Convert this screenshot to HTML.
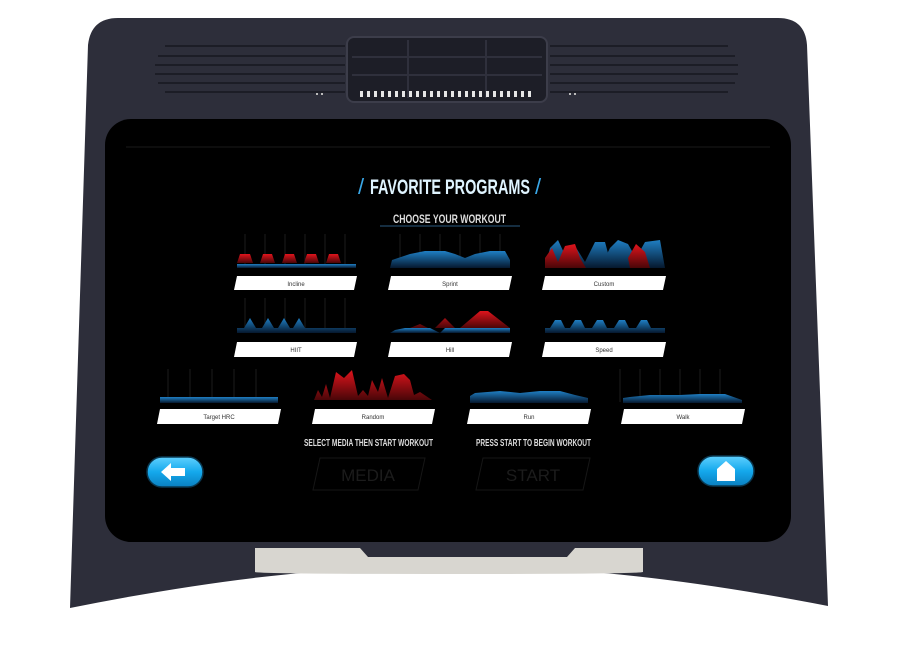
<!DOCTYPE html>
<html><head><meta charset="utf-8"><style>
html,body{margin:0;padding:0;background:#fff;}
svg{display:block}
text{font-family:"Liberation Sans Narrow","Liberation Sans",sans-serif;}
</style></head><body>
<svg width="900" height="653" viewBox="0 0 900 653" xmlns="http://www.w3.org/2000/svg">
<defs>
<linearGradient id="bl" x1="0" y1="0" x2="0" y2="1"><stop offset="0" stop-color="#1f7fc4"/><stop offset="1" stop-color="#06182e"/></linearGradient>
<linearGradient id="rd" x1="0" y1="0" x2="0" y2="1"><stop offset="0" stop-color="#e0141c"/><stop offset="1" stop-color="#4a0608"/></linearGradient>
<linearGradient id="btn" x1="0" y1="0" x2="0" y2="1"><stop offset="0" stop-color="#5fd0ff"/><stop offset="0.5" stop-color="#14a8ec"/><stop offset="1" stop-color="#0a7fc0"/></linearGradient>
</defs>
<path d="M118 18 L778 18 Q805 18 807 45 L828 606 Q600 562 450 568 Q300 562 70 608 L88 45 Q91 18 118 18 Z" fill="#2d2e3a"/>
<g stroke="#1c1d26" stroke-width="2" fill="none">
<path d="M165 46 H345 M158 56 H345 M155 65 H345 M155 74 H345 M158 83 H345 M165 92 H345"/>
<path d="M550 46 H728 M550 56 H735 M550 65 H738 M550 74 H738 M550 83 H735 M550 92 H728"/>
</g>
<g fill="#bbb"><rect x="316" y="93" width="2" height="2"/><rect x="321" y="93" width="2" height="2"/><rect x="569" y="93" width="2" height="2"/><rect x="574" y="93" width="2" height="2"/></g>
<rect x="347" y="37" width="200" height="65" rx="7" fill="#1d1e27" stroke="#3c3d4a" stroke-width="2"/>
<g stroke="#2f303c" stroke-width="2"><path d="M352 57 H542 M352 75 H542 M408 40 V98 M486 40 V98"/></g>
<g fill="#e6e6e6">
<rect x="360" y="91" width="3" height="6"/><rect x="367" y="91" width="3" height="6"/><rect x="374" y="91" width="3" height="6"/><rect x="381" y="91" width="3" height="6"/><rect x="388" y="91" width="3" height="6"/><rect x="395" y="91" width="3" height="6"/><rect x="402" y="91" width="3" height="6"/><rect x="409" y="91" width="3" height="6"/><rect x="416" y="91" width="3" height="6"/><rect x="423" y="91" width="3" height="6"/><rect x="430" y="91" width="3" height="6"/><rect x="437" y="91" width="3" height="6"/><rect x="444" y="91" width="3" height="6"/><rect x="451" y="91" width="3" height="6"/><rect x="458" y="91" width="3" height="6"/><rect x="465" y="91" width="3" height="6"/><rect x="472" y="91" width="3" height="6"/><rect x="479" y="91" width="3" height="6"/><rect x="486" y="91" width="3" height="6"/><rect x="493" y="91" width="3" height="6"/><rect x="500" y="91" width="3" height="6"/><rect x="507" y="91" width="3" height="6"/><rect x="514" y="91" width="3" height="6"/><rect x="521" y="91" width="3" height="6"/><rect x="528" y="91" width="3" height="6"/>
</g>
<rect x="105" y="119" width="686" height="423" rx="26" fill="#000"/>
<line x1="126" y1="147" x2="770" y2="147" stroke="#1a1a1a" stroke-width="1"/>
<path d="M255 548 H360 L368 557 H567 L575 548 H643 V572 Q640 574 450 574 Q258 574 255 572 Z" fill="#d8d6d0"/>
<text x="358" y="194" fill="#3aa8e8" font-size="22">/</text>
<text x="535" y="194" fill="#3aa8e8" font-size="22">/</text>
<text x="370" y="194" fill="#dff4ff" font-size="21" font-weight="bold" textLength="160" lengthAdjust="spacingAndGlyphs">FAVORITE PROGRAMS</text>
<text x="393" y="223" fill="#ddd" font-size="12" font-weight="bold" textLength="113" lengthAdjust="spacingAndGlyphs">CHOOSE YOUR WORKOUT</text>
<line x1="380" y1="226" x2="520" y2="226" stroke="#2a5a80" stroke-width="1"/>
<g stroke="#1c1c1c" stroke-width="1">
<path d="M245 234 V268 M265 234 V268 M285 234 V268 M305 234 V268 M325 234 V268 M345 234 V268"/>
<path d="M400 234 V268 M420 234 V268 M440 234 V268 M460 234 V268 M480 234 V268 M500 234 V268"/>
<path d="M245 298 V333 M265 298 V333 M285 298 V333 M305 298 V333 M325 298 V333 M345 298 V333"/>
<path d="M168 369 V402 M190 369 V402 M212 369 V402 M234 369 V402 M256 369 V402 M620 369 V402 M640 369 V402 M660 369 V402 M680 369 V402 M700 369 V402 M720 369 V402"/>
</g>
<path d="M237 263 L240 254 L250 254 L253 263 L260 263 L263 254 L272 254 L275 263 L282 263 L285 254 L294 254 L297 263 L304 263 L307 254 L316 254 L319 263 L326 263 L329 254 L338 254 L341 263 Z" fill="url(#rd)"/>
<path d="M237 264 H356 L356 268 H237 Z" fill="url(#bl)"/>
<path d="M390 268 L392 260 L410 254 L425 251 L445 251 L455 254 L465 258 L475 254 L490 251 L505 251 L510 260 L510 268 Z" fill="url(#bl)"/>
<path d="M545 268 L550 248 L558 240 L565 255 L575 246 L585 262 L595 242 L605 242 L612 268 Z" fill="url(#bl)"/>
<path d="M545 258 L552 248 L558 262 L565 246 L575 244 L580 258 L586 268 L545 268Z" fill="url(#rd)"/>
<path d="M600 268 L610 248 L618 240 L628 244 L636 258 L645 242 L660 240 L665 268 Z" fill="url(#bl)"/>
<path d="M628 258 L636 244 L645 252 L650 268 L630 268Z" fill="url(#rd)"/>
<path d="M237 333 V328 H244 L250 318 L256 328 H262 L268 318 L274 328 H278 L284 318 L290 328 H293 L299 318 L305 328 H356 V333 Z" fill="url(#bl)"/>
<path d="M390 333 L395 330 L405 328 H430 L440 333 Z" fill="url(#bl)"/>
<path d="M410 328 L420 324 L428 328 Z M435 328 L445 318 L455 328 Z M460 328 L480 311 L488 311 L510 328 Z" fill="url(#rd)"/>
<path d="M440 333 L445 328 H510 V333 Z" fill="url(#bl)"/>
<path d="M545 333 V328 H550 L555 320 L561 320 L565 328 H570 L575 320 L581 320 L585 328 H592 L597 320 L603 320 L607 328 H614 L619 320 L625 320 L629 328 H636 L641 320 L647 320 L651 328 H665 V333 Z" fill="url(#bl)"/>
<path d="M160 397 H278 V403 H160 Z" fill="url(#bl)"/>
<path d="M314 400 L318 390 L322 397 L326 384 L330 398 L336 372 L344 378 L352 370 L358 396 L363 390 L368 396 L372 380 L378 392 L382 378 L388 398 L395 376 L404 374 L410 380 L414 395 L420 392 L432 400 Z" fill="url(#rd)"/>
<path d="M470 403 V396 L475 393 L500 391 L520 393 L540 391 L560 391 L575 395 L588 398 V403 Z" fill="url(#bl)"/>
<path d="M623 403 V398 L630 397 L650 395 L680 395 L700 394 L725 394 L742 400 V403 Z" fill="url(#bl)"/>
<g fill="#fff">
<path d="M237 276 H357 L354 290 H234 Z"/><path d="M391 276 H512 L509 290 H388 Z"/><path d="M545 276 H666 L663 290 H542 Z"/>
<path d="M237 342 H357 L354 357 H234 Z"/><path d="M391 342 H512 L509 357 H388 Z"/><path d="M545 342 H666 L663 357 H542 Z"/>
<path d="M160 409 H281 L278 424 H157 Z"/><path d="M315 409 H435 L432 424 H312 Z"/><path d="M470 409 H591 L588 424 H467 Z"/><path d="M624 409 H745 L742 424 H621 Z"/>
</g>
<g fill="#333" font-size="6" text-anchor="middle" font-family="Liberation Sans,sans-serif">
<text x="296" y="286">Incline</text><text x="450" y="286">Sprint</text><text x="604" y="286">Custom</text>
<text x="296" y="352">HIIT</text><text x="450" y="352">Hill</text><text x="604" y="352">Speed</text>
<text x="219" y="419">Target HRC</text><text x="373" y="419">Random</text><text x="529" y="419">Run</text><text x="683" y="419">Walk</text>
</g>
<text x="304" y="446" fill="#ddd" font-size="10" font-weight="bold" textLength="129" lengthAdjust="spacingAndGlyphs">SELECT MEDIA THEN START WORKOUT</text>
<text x="476" y="446" fill="#ddd" font-size="10" font-weight="bold" textLength="115" lengthAdjust="spacingAndGlyphs">PRESS START TO BEGIN WORKOUT</text>
<path d="M320 458 H425 L418 490 H313 Z" fill="none" stroke="#161616"/>
<path d="M483 458 H590 L583 490 H476 Z" fill="none" stroke="#161616"/>
<text x="368" y="481" fill="#1c1c1c" font-size="17" text-anchor="middle">MEDIA</text>
<text x="533" y="481" fill="#1c1c1c" font-size="17" text-anchor="middle">START</text>
<rect x="147" y="457" width="56" height="30" rx="15" fill="url(#btn)" stroke="#0a3850" stroke-width="1.5"/>
<path d="M161 472 L171 463 V468 H185 V476 H171 V481 Z" fill="#fff"/>
<rect x="698" y="456" width="56" height="30" rx="15" fill="url(#btn)" stroke="#0a3850" stroke-width="1.5"/>
<path d="M726 461 L735 469 V481 H717 V469 Z" fill="#fff"/>
</svg>
</body></html>
